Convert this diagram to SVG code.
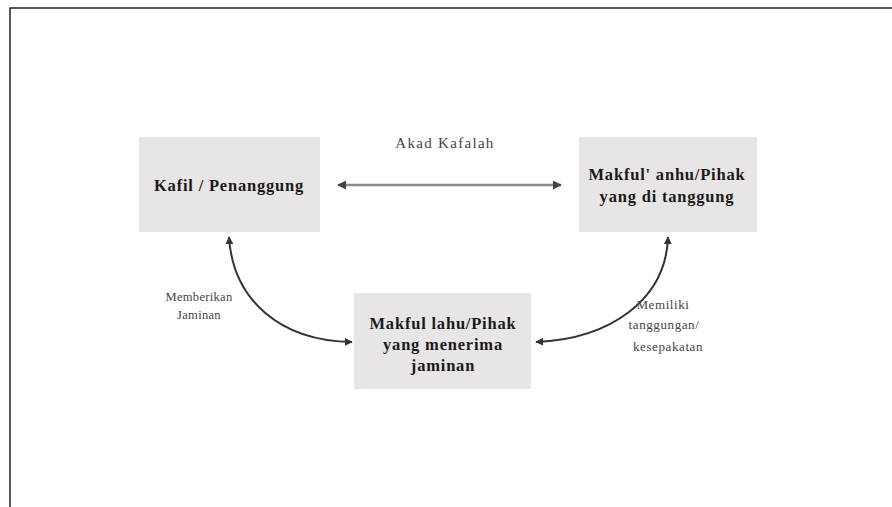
<svg xmlns="http://www.w3.org/2000/svg" width="892" height="507" viewBox="0 0 892 507">
<defs>
<style>
.box{fill:#e7e5e5;}
.nt{font-family:"Liberation Serif",serif;font-weight:bold;font-size:16.5px;letter-spacing:0.8px;fill:#1a1a1a;text-anchor:middle;}
.lb{font-family:"Liberation Serif",serif;font-size:12.5px;letter-spacing:0.3px;fill:#444;text-anchor:middle;}
.lbr{font-family:"Liberation Serif",serif;font-size:13px;letter-spacing:0.6px;fill:#444;text-anchor:middle;}
.ak{font-family:"Liberation Serif",serif;font-size:15px;letter-spacing:1.3px;fill:#444;text-anchor:middle;}
.frame{stroke:#222;stroke-width:1.5;fill:none;}
.c{fill:none;stroke:#333;stroke-width:2;}
.h{fill:none;stroke:#8a8a8a;stroke-width:2.5;}
</style>
<marker id="ah" viewBox="0 0 10 10" refX="9" refY="5" markerWidth="8" markerHeight="8" markerUnits="userSpaceOnUse" orient="auto-start-reverse">
<path d="M0,0 L10,5 L0,10 z" fill="#333"/>
</marker>
<marker id="ah2" viewBox="0 0 10 10" refX="9" refY="5" markerWidth="9" markerHeight="9" markerUnits="userSpaceOnUse" orient="auto-start-reverse">
<path d="M0,0 L10,5 L0,10 z" fill="#444"/>
</marker>
</defs>
<rect width="892" height="507" fill="#fff"/>
<path class="frame" d="M10,507 L10,8 L892,8"/>
<g id="kafil">
<rect class="box" x="139" y="137" width="181" height="95"/>
<text class="nt" x="229" y="191">Kafil / Penanggung</text>
</g>
<g id="makful-anhu">
<rect class="box" x="579" y="137" width="178" height="95"/>
<text class="nt" x="667" y="180">Makful' anhu/Pihak</text>
<text class="nt" x="667" y="202">yang di tanggung</text>
</g>
<g id="makful-lahu">
<rect class="box" x="354" y="293" width="177" height="96"/>
<text class="nt" x="443" y="329">Makful lahu/Pihak</text>
<text class="nt" x="443" y="350">yang menerima</text>
<text class="nt" x="443" y="371">jaminan</text>
</g>
<g id="connectors">
<line class="h" x1="338" y1="185" x2="561" y2="185" marker-start="url(#ah2)" marker-end="url(#ah2)"/>
<text class="ak" x="445" y="148">Akad Kafalah</text>
<path class="c" d="M229,237 C233,300 280,341 352,342" marker-start="url(#ah)" marker-end="url(#ah)"/>
<text class="lb" x="199" y="301">Memberikan</text>
<text class="lb" x="199" y="319">Jaminan</text>
<path class="c" d="M536,342 C610,339 666,300 668,237" marker-start="url(#ah)" marker-end="url(#ah)"/>
<text class="lbr" x="663" y="309">Memiliki</text>
<text class="lbr" x="664" y="329">tanggungan/</text>
<text class="lbr" x="668" y="351">kesepakatan</text>
</g>
</svg>
